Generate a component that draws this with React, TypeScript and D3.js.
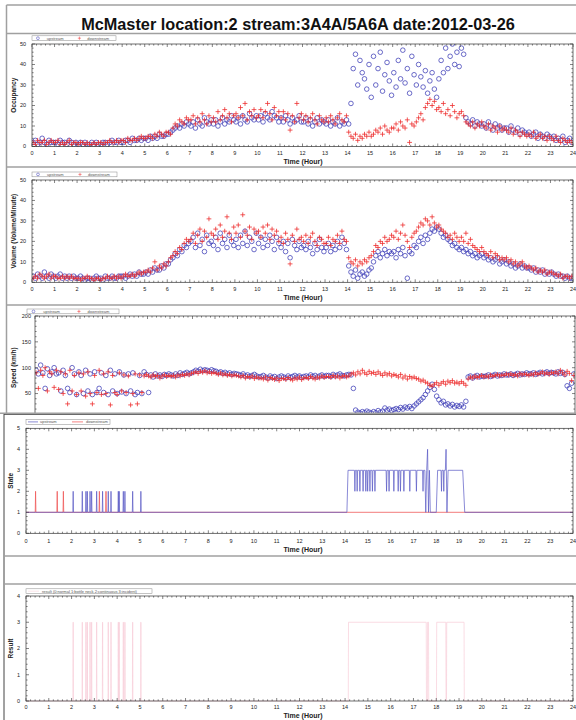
import React from "react";
import * as d3 from "d3";

// ---------------- DATA (10 samples per hour, 0..24 h) ----------------
const SAMPLES_PER_HOUR = 10;

const occUp = [
  2,3,1,2,4,2,1,3,2,2, 2,1,3,2,2,1,3,2,1,2, 1,2,1,2,1,1,2,1,2,1, 1,2,2,1,2,3,2,2,3,2,
  2,3,3,2,4,3,3,4,3,4, 4,3,5,4,5,4,6,5,5,6, 6,7,8,9,10,9,11,10,12,11, 10,12,9,13,11,10,14,12,11,13,
  11,13,10,12,14,11,13,12,15,13, 12,14,11,15,13,12,16,14,13,15, 13,15,12,16,14,13,17,15,14,12, 14,12,15,13,11,14,12,13,15,12,
  12,14,11,13,10,12,14,11,13,12, 11,13,10,12,11,14,10,12,11,13, 11,21,38,45,30,42,36,33,28,40, 24,44,30,38,46,27,35,41,32,25,
  36,29,42,33,47,31,38,26,44,35, 30,40,34,29,37,26,32,36,28,24, 33,42,36,48,38,44,50,40,46,39, 48,45,14,12,11,13,10,12,11,10,
  11,9,12,10,8,11,9,10,8,9, 9,7,10,8,7,9,6,8,7,6, 7,5,6,7,4,6,5,4,6,5, 4,5,3,4,3,5,2,3,4,2,
];
const occDown = [
  2,1,3,2,2,3,1,2,3,2, 2,3,1,2,1,2,3,1,2,2, 1,2,2,1,2,1,1,2,1,2, 2,1,2,2,3,2,2,3,2,3,
  3,2,4,3,3,4,3,4,5,4, 4,5,5,4,6,5,7,6,5,7, 7,6,9,11,10,13,12,11,14,13, 13,15,11,14,12,16,13,11,15,12,
  14,12,17,13,15,18,14,16,12,15, 16,14,19,15,21,13,17,15,18,14, 15,18,14,17,21,16,13,19,15,17, 14,17,13,16,8,15,12,21,14,16,
  13,15,12,14,16,13,11,15,13,12, 14,12,15,13,11,14,16,13,12,15, 7,5,4,6,3,5,4,6,5,7, 5,6,8,7,9,6,10,8,7,9,
  9,11,8,12,10,9,13,2,11,10, 12,14,16,13,19,21,23,20,22,18, 19,17,21,16,18,15,20,17,14,16, 17,15,12,11,10,12,9,11,10,12,
  10,9,11,8,10,9,7,10,8,9, 8,7,9,6,8,7,5,7,6,5, 6,5,7,4,5,6,4,5,3,5, 4,3,5,3,2,4,3,2,3,2,
];
const volUp = [
  3,2,4,3,2,5,3,2,4,3, 2,3,4,2,3,2,3,2,3,2, 2,3,2,1,2,2,1,2,3,2, 2,1,3,2,2,3,2,2,3,3,
  3,2,3,4,3,4,3,5,4,4, 5,4,6,5,7,6,6,8,7,9, 9,11,12,14,13,16,15,18,17,19, 20,22,17,24,18,21,15,23,19,20,
  18,22,16,24,19,21,17,23,20,18, 21,17,23,19,25,18,22,20,16,24, 19,22,17,21,18,23,20,16,22,19, 17,20,15,19,12,21,18,16,20,17,
  18,16,20,17,14,19,16,21,17,15, 17,19,15,18,16,20,17,22,19,16, 8,5,3,6,2,4,5,3,4,6, 7,10,13,15,12,14,16,13,15,14,
  15,12,16,14,17,13,2,15,14,18, 17,20,22,19,23,21,24,26,25,27, 26,24,22,23,21,20,18,19,17,16, 17,15,16,14,15,13,14,12,13,14,
  12,13,11,12,10,11,12,9,10,11, 9,10,8,9,7,8,9,7,8,7, 7,6,7,5,6,5,6,4,5,4, 5,4,3,4,3,3,2,3,2,2,
];
const volDown = [
  2,3,2,4,3,2,3,4,2,3, 3,2,2,3,2,3,2,3,2,2, 2,1,2,2,3,2,2,1,2,2, 1,2,2,3,2,2,3,2,3,2,
  3,4,3,3,4,3,4,5,4,5, 5,6,5,7,10,6,8,7,9,8, 10,12,13,15,14,17,16,19,21,20, 21,24,19,23,26,20,25,22,31,24,
  23,26,21,28,22,25,32,24,21,27, 24,28,22,33,25,23,27,21,26,24, 25,22,27,24,28,21,26,23,25,20, 22,19,24,21,9,23,20,26,21,22,
  20,23,19,22,24,20,18,22,21,19, 19,22,18,21,20,23,19,25,21,20, 12,10,9,11,8,10,9,11,10,12, 13,15,18,17,20,19,22,20,21,23,
  22,25,21,24,28,23,20,17,22,24, 25,27,29,28,31,30,28,32,29,27, 28,26,25,24,22,23,21,24,22,20, 22,20,24,19,21,18,17,16,15,17,
  15,14,13,15,12,14,13,11,12,11, 12,10,11,9,10,8,9,10,8,7, 8,7,6,7,5,6,5,6,4,5, 5,4,4,3,4,2,3,3,2,3,
];
const spdUp = [
  95,88,105,90,60,98,85,92,100,88, 90,55,95,85,60,52,100,88,48,92, 85,50,95,55,88,48,92,52,60,90, 52,85,48,95,55,88,50,92,53,86,
  50,88,55,90,48,52,85,50,92,87, 52,86,82,88,84,86,83,87,85,88, 86,84,88,85,90,87,89,91,88,90, 92,95,93,97,94,96,95,93,96,94,
  93,90,92,89,91,88,90,87,89,88, 87,85,88,84,86,83,85,87,84,82, 83,85,82,80,84,81,83,79,82,84, 82,80,84,81,83,85,82,84,81,83,
  84,82,86,83,85,82,84,86,83,85, 85,83,87,84,86,88,85,84,86,87, 86,60,18,14,12,15,13,16,14,12, 15,13,17,14,16,22,18,20,17,19,
  21,19,23,20,24,22,25,21,26,30, 34,38,42,48,55,62,68,58,45,38, 32,35,28,30,26,29,24,27,25,28, 24,35,82,84,80,83,85,82,84,83,
  84,86,83,85,87,84,86,85,88,86, 86,88,85,87,89,86,88,87,90,88, 88,90,87,89,91,88,90,92,89,91, 90,88,92,89,91,87,65,60,70,88,
];
const spdDown = [
  90,60,95,85,100,55,92,88,62,95, 58,92,50,88,30,95,55,85,48,90, 55,88,45,92,50,30,85,52,95,48, 88,50,92,28,85,52,48,90,55,86,
  52,84,28,50,88,30,86,52,84,87, 84,82,86,83,85,80,84,86,83,85, 83,85,82,86,84,87,85,88,86,89, 90,92,89,93,91,94,90,92,89,91,
  89,87,90,86,88,85,87,84,86,85, 84,82,85,80,83,81,84,79,82,80, 80,78,82,76,81,79,77,80,75,79, 79,77,81,78,76,80,78,82,77,80,
  81,79,83,80,78,82,80,84,81,83, 83,81,85,82,84,80,83,85,82,84, 88,90,86,92,88,95,90,87,93,89, 91,87,92,88,85,90,86,89,84,87,
  85,82,87,80,84,78,83,80,82,79, 78,74,76,72,70,66,64,68,71,66, 70,73,68,74,71,75,70,72,69,73, 70,66,78,82,80,84,81,83,85,82,
  84,82,86,83,85,87,84,86,85,88, 86,88,85,87,84,89,86,88,87,85, 88,86,90,87,89,92,88,90,87,91, 89,92,88,95,90,86,93,89,75,85,
];

// State: single-sample spikes (1 -> 2) and incident period of upstream detector
const upStateSpikes = [2.07, 2.47, 2.63, 2.69, 2.81, 2.88, 3.1, 3.36, 3.61, 3.73, 4.05, 4.09, 4.27, 4.34, 4.68, 5.04];
const downStateSpikes = [0.42, 1.37, 1.64, 3.22, 3.51];
const upStateDips = [14.43, 14.53, 14.65, 14.79, 14.91, 14.99, 15.09, 15.2, 15.31, 15.82, 15.93, 16.14, 16.33, 16.43, 16.58, 16.84, 17.13, 17.42, 18.23, 18.33];
const upStateBreakT = [14.08, 14.13, 17.5, 17.54, 17.58, 17.62, 17.66, 17.7, 17.74, 18.0, 18.06, 18.4, 18.43, 18.47, 18.52, 19.16, 19.25];
const upStateBreakV = [1, 3, 3, 1, 3, 4, 1, 3, 1, 1, 3, 3, 4, 1, 3, 3, 1];

// Result (0 normal, 3 incident)
const resultSpikes = [2.07, 2.47, 2.63, 2.69, 2.81, 2.88, 3.1, 3.36, 3.61, 3.73, 4.05, 4.09, 4.27, 4.34, 4.68, 5.04];
const resultBlockStart = [14.15, 17.62, 18.02, 18.46];
const resultBlockEnd = [17.56, 17.66, 18.42, 19.22];

const xHourTicks = d3.range(0, 25);

// ---------------- STYLE ----------------
const FONT = "'Liberation Sans', Arial, Helvetica, sans-serif";
const BLUE = "#3b3bb5";
const RED = "#ee2e2e";
const AXIS = "#333";
const SEP = "#a0a0a0";

type Pt = [number, number];

function withTime(vals: number[]): Pt[] {
  return vals.map((v, i) => [(i + 0.5) / SAMPLES_PER_HOUR, v]);
}

function buildUpState(): Pt[] {
  const pts: Pt[] = [[0, 1], [24, 1]];
  upStateSpikes.forEach((t) => pts.push([t - 0.015, 1], [t, 2], [t + 0.015, 1]));
  upStateBreakT.forEach((t, i) => pts.push([t, upStateBreakV[i]]));
  upStateDips.forEach((t) => pts.push([t - 0.02, 3], [t, 2], [t + 0.02, 3]));
  return pts.sort((a, b) => a[0] - b[0]);
}
function buildDownState(): Pt[] {
  const pts: Pt[] = [[0, 1], [24, 1]];
  downStateSpikes.forEach((t) => pts.push([t - 0.015, 1], [t, 2], [t + 0.015, 1]));
  return pts.sort((a, b) => a[0] - b[0]);
}
function buildResult(): Pt[] {
  const pts: Pt[] = [[0, 0], [24, 0]];
  resultSpikes.forEach((t) => pts.push([t - 0.01, 0], [t - 0.004, 3], [t + 0.004, 3], [t + 0.01, 0]));
  resultBlockStart.forEach((a, i) => {
    const b = resultBlockEnd[i];
    pts.push([a - 0.01, 0], [a, 3], [b, 3], [b + 0.01, 0]);
  });
  return pts.sort((a, b) => a[0] - b[0]);
}

type Lin = d3.ScaleLinear<number, number>;

interface AxesProps {
  xs: Lin;
  ys: Lin;
  yTicks: number[];
  yMinorStep: number;
  yTickLabelX: number;
  xTickLabelY?: number;
  xTitleY?: number;
  yTitle: string;
  yTitleX: number;
}

function Axes(p: AxesProps) {
  const [x0, x1] = p.xs.range();
  const [yb, yt] = p.ys.range();
  const [d0, d1] = p.ys.domain();
  const xMinor = d3.range(0, 24.0001, 0.2).filter((v) => Math.abs(v - Math.round(v)) > 1e-6);
  const yMinor = d3.range(d0, d1 + 1e-6, p.yMinorStep).filter((v) => !p.yTicks.some((t) => Math.abs(t - v) < 1e-6));
  const d: string[] = [];
  xHourTicks.forEach((v) => { const x = p.xs(v); d.push(`M${x},${yb}v-3M${x},${yt}v3`); });
  xMinor.forEach((v) => { const x = p.xs(v); d.push(`M${x},${yb}v-1.6M${x},${yt}v1.6`); });
  p.yTicks.forEach((v) => { const y = p.ys(v); d.push(`M${x0},${y}h3M${x1},${y}h-3`); });
  yMinor.forEach((v) => { const y = p.ys(v); d.push(`M${x0},${y}h1.6M${x1},${y}h-1.6`); });
  return (
    <g fontFamily={FONT} fill="#222">
      <rect x={x0} y={yt} width={x1 - x0} height={yb - yt} fill="none" stroke={AXIS} strokeWidth={0.7} />
      <path d={d.join("")} stroke={AXIS} strokeWidth={0.6} fill="none" />
      {p.yTicks.map((v) => (
        <text key={`y${v}`} x={p.yTickLabelX} y={p.ys(v)} dy="0.35em" textAnchor="end" fontSize={5.5}>{v}</text>
      ))}
      {p.xTickLabelY !== undefined &&
        xHourTicks.map((v) => (
          <text key={`x${v}`} x={p.xs(v)} y={p.xTickLabelY} textAnchor="middle" fontSize={5.5}>{v}</text>
        ))}
      {p.xTitleY !== undefined && (
        <text x={303} y={p.xTitleY} textAnchor="middle" fontWeight="bold" fontSize={7}>Time (Hour)</text>
      )}
      <text
        transform={`translate(${p.yTitleX},${(yb + yt) / 2}) rotate(-90)`}
        textAnchor="middle"
        fontWeight="bold"
        fontSize={6.5}
      >
        {p.yTitle}
      </text>
    </g>
  );
}

function Scatter({ id, xs, ys, up, down }: { id: string; xs: Lin; ys: Lin; up: number[]; down: number[] }) {
  const [x0, x1] = xs.range();
  const [yb, yt] = ys.range();
  const upPts = withTime(up);
  const downPts = withTime(down);
  const plus = downPts
    .map(([t, v]) => { const x = xs(t), y = ys(v); return `M${x - 2.4},${y}h4.8M${x},${y - 2.4}v4.8`; })
    .join("");
  return (
    <g>
      <clipPath id={id}>
        <rect x={x0} y={yt} width={x1 - x0} height={yb - yt} />
      </clipPath>
      <g clipPath={`url(#${id})`}>
        {upPts.map(([t, v], i) => (
          <circle key={i} cx={xs(t)} cy={ys(v)} r={2.3} fill="none" stroke={BLUE} strokeWidth={0.75} />
        ))}
        <path d={plus} stroke={RED} strokeWidth={0.8} fill="none" />
      </g>
    </g>
  );
}

function ScatterLegend({ x, y, w }: { x: number; y: number; w: number }) {
  const h = 4.8;
  const k = w / 85;
  return (
    <g fontFamily={FONT} fontSize={4} fill="#555">
      <rect x={x} y={y} width={w} height={h} fill="#fff" stroke="#888" strokeWidth={0.5} />
      <circle cx={x + 6 * k} cy={y + h / 2} r={1.4} fill="none" stroke={BLUE} strokeWidth={0.5} />
      <text x={x + 15 * k} y={y + h / 2} dy="0.35em">upstream</text>
      <path d={`M${x + 48 * k - 1.6},${y + h / 2}h3.2M${x + 48 * k},${y + h / 2 - 1.6}v3.2`} stroke={RED} strokeWidth={0.5} />
      <text x={x + 56 * k} y={y + h / 2} dy="0.35em">downstream</text>
    </g>
  );
}

export default function App() {
  // Panel 1: Occupancy
  const xs1 = d3.scaleLinear().domain([0, 24]).range([32, 573]);
  const ys1 = d3.scaleLinear().domain([0, 50]).range([146.5, 44]);
  // Panel 2: Volume
  const xs2 = d3.scaleLinear().domain([0, 24]).range([32, 573]);
  const ys2 = d3.scaleLinear().domain([0, 50]).range([282.3, 180]);
  // Panel 3: Speed
  const xs3 = d3.scaleLinear().domain([0, 24]).range([35, 575]);
  const ys3 = d3.scaleLinear().domain([0, 200]).range([419.4, 316]);
  // Panel 4: State
  const xs4 = d3.scaleLinear().domain([0, 24]).range([26, 573]);
  const ys4 = d3.scaleLinear().domain([0, 5]).range([533.3, 428.3]);
  // Panel 5: Result
  const xs5 = d3.scaleLinear().domain([0, 24]).range([26, 573]);
  const ys5 = d3.scaleLinear().domain([0, 4]).range([701, 596]);

  const line4 = d3.line<Pt>().x((d) => xs4(d[0])).y((d) => ys4(d[1]));
  const line5 = d3.line<Pt>().x((d) => xs5(d[0])).y((d) => ys5(d[1]));

  const title = "McMaster location:2 stream:3A4A/5A6A date:2012-03-26";

  return (
    <svg
      width={576}
      height={720}
      viewBox="0 0 576 720"
      style={{ position: "absolute", left: 0, top: 0, background: "#fff" }}
    >
      <rect x={0} y={0} width={576} height={720} fill="#fff" />
      {/* outer frame & title */}
      <line x1={6.5} y1={5} x2={576} y2={5} stroke={SEP} strokeWidth={1.5} />
      <line x1={6.5} y1={5} x2={6.5} y2={414} stroke={SEP} strokeWidth={1.5} />
      <text x={298} y={29.5} textAnchor="middle" fontFamily={FONT} fontWeight="bold" fontSize={16.3} fill="#111">
        {title}
      </text>
      <line x1={6.5} y1={33.5} x2={576} y2={33.5} stroke={SEP} strokeWidth={1.5} />

      {/* Panel 1 */}
      <ScatterLegend x={32} y={35.8} w={84} />
      <Scatter id="c1" xs={xs1} ys={ys1} up={occUp} down={occDown} />
      <Axes xs={xs1} ys={ys1} yTicks={[0, 10, 20, 30, 40, 50]} yMinorStep={2} yTickLabelX={26} xTickLabelY={155} xTitleY={164} yTitle="Occupancy" yTitleX={16} />
      <line x1={6.5} y1={167} x2={576} y2={167} stroke={SEP} strokeWidth={1.5} />

      {/* Panel 2 */}
      <ScatterLegend x={32} y={172} w={85} />
      <Scatter id="c2" xs={xs2} ys={ys2} up={volUp} down={volDown} />
      <Axes xs={xs2} ys={ys2} yTicks={[0, 10, 20, 30, 40, 50]} yMinorStep={2} yTickLabelX={26} xTickLabelY={291} xTitleY={300} yTitle="Volume (Volume/Minute)" yTitleX={16} />
      <line x1={6.5} y1={305} x2={576} y2={305} stroke={SEP} strokeWidth={1.5} />

      {/* Panel 3 */}
      <ScatterLegend x={27} y={309} w={92} />
      <Scatter id="c3" xs={xs3} ys={ys3} up={spdUp} down={spdDown} />
      <Axes xs={xs3} ys={ys3} yTicks={[0, 50, 100, 150, 200]} yMinorStep={10} yTickLabelX={31} yTitle="Speed (km/h)" yTitleX={16} />
      <line x1={0} y1={413.3} x2={576} y2={413.3} stroke={SEP} strokeWidth={1.5} />

      {/* Panel 4: State (overlays bottom of speed panel) */}
      <rect x={0} y={414} width={576} height={306} fill="#fff" />
      <line x1={4} y1={414.5} x2={576} y2={414.5} stroke="#444" strokeWidth={0.8} />
      <line x1={4} y1={414} x2={4} y2={720} stroke="#444" strokeWidth={1} />
      <g fontFamily={FONT} fontSize={4} fill="#555">
        <rect x={26} y={419.5} width={84} height={4.8} fill="#fff" stroke="#888" strokeWidth={0.5} />
        <line x1={28} x2={38} y1={421.9} y2={421.9} stroke={BLUE} strokeWidth={0.6} />
        <text x={40} y={421.9} dy="0.35em">upstream</text>
        <line x1={72} x2={83} y1={421.9} y2={421.9} stroke={RED} strokeWidth={0.6} />
        <text x={86} y={421.9} dy="0.35em">downstream</text>
      </g>
      <path d={line4(buildDownState()) || ""} fill="none" stroke="#f05a5a" strokeWidth={0.8} />
      <path d={line4(buildUpState()) || ""} fill="none" stroke="#5858c4" strokeWidth={0.7} />
      <Axes xs={xs4} ys={ys4} yTicks={[0, 1, 2, 3, 4, 5]} yMinorStep={0.2} yTickLabelX={20} xTickLabelY={543} xTitleY={551.5} yTitle="State" yTitleX={13} />
      <line x1={4} y1={556} x2={576} y2={556} stroke={SEP} strokeWidth={1.5} />
      <line x1={4} y1={584} x2={576} y2={584} stroke={SEP} strokeWidth={1.5} />

      {/* Panel 5: Result */}
      <g fontFamily={FONT} fontSize={4} fill="#555">
        <rect x={26} y={588.8} width={126} height={4.8} fill="#fff" stroke="#888" strokeWidth={0.5} />
        <line x1={28} x2={39} y1={591.2} y2={591.2} stroke="#f9d3dc" strokeWidth={0.6} />
        <text x={42} y={591.2} dy="0.35em">result (0:normal 1:bottle neck 2:continuous 3:incident)</text>
      </g>
      <path d={line5(buildResult()) || ""} fill="none" stroke="#f8cdd8" strokeWidth={0.7} />
      <Axes xs={xs5} ys={ys5} yTicks={[0, 1, 2, 3, 4]} yMinorStep={0.2} yTickLabelX={20} xTickLabelY={709} xTitleY={718} yTitle="Result" yTitleX={13} />
    </svg>
  );
}
